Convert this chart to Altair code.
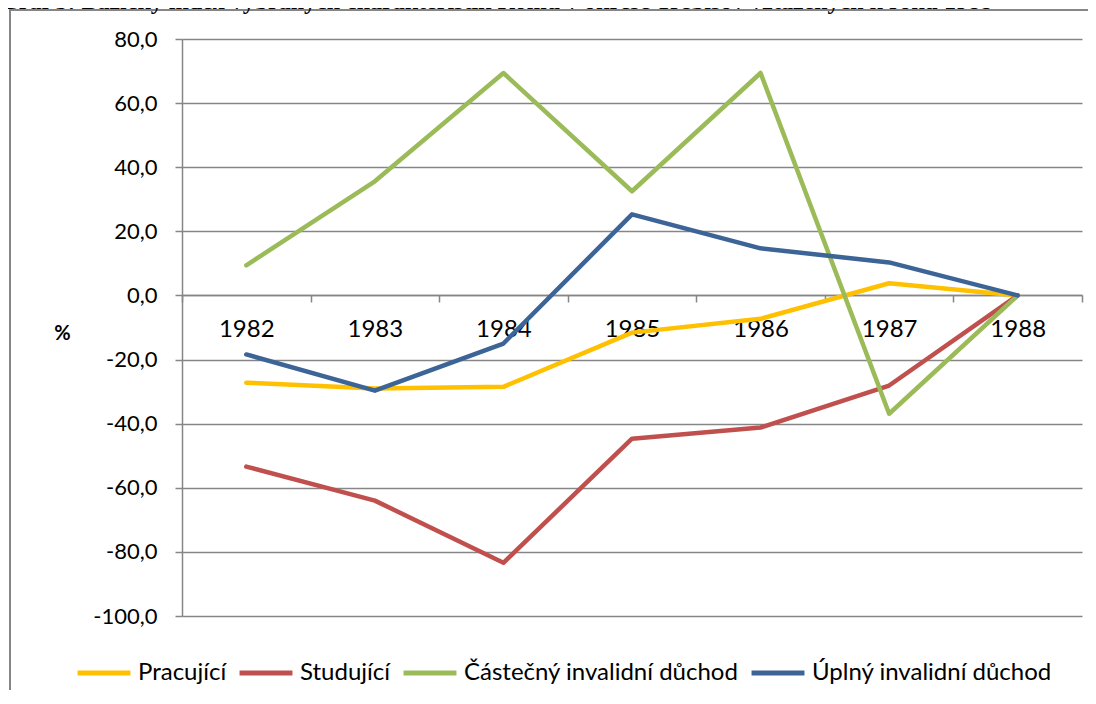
import altair as alt
import pandas as pd

years = ["1982", "1983", "1984", "1985", "1986", "1987", "1988"]
series_names = ["Pracující", "Studující", "Částečný invalidní důchod", "Úplný invalidní důchod"]
pracujici = [-27.2, -29.0, -28.5, -11.6, -7.3, 3.8, 0.0]
studujici = [-53.4, -64.0, -83.4, -44.7, -41.2, -28.1, 0.0]
castecny = [9.4, 35.6, 69.4, 32.5, 69.4, -36.9, 0.0]
uplny = [-18.4, -29.7, -15.0, 25.3, 14.7, 10.3, 0.0]
colors = ["#FFC000", "#C0504D", "#9BBB59", "#3C6497"]
y_ticks = [-100, -80, -60, -40, -20, 0, 20, 40, 60, 80]
title_text = "Graf 5: Bazický index vybraných charakteristík Romů v okrese Trebišov vztažených k roku 1988"

rows = []
for name, vals in zip(series_names, [pracujici, studujici, castecny, uplny]):
    for yr, v in zip(years, vals):
        rows.append({"rok": yr, "hodnota": v, "rada": name})
df = pd.DataFrame(rows)
one = pd.DataFrame({"a": [0]})

GRAY = "#868686"
FONT = "Lato"

lines = alt.Chart(df).mark_line(strokeWidth=4.5, strokeCap="round", strokeJoin="round").encode(
    x=alt.X("rok:O", sort=years,
            scale=alt.Scale(type="band", paddingInner=0, paddingOuter=0),
            axis=alt.Axis(orient="bottom", offset=-321, title=None, labelAngle=0,
                          tickBand="extent", tickSize=7, tickColor=GRAY, tickWidth=1.5,
                          domainColor=GRAY, domainWidth=1.5, labelFont=FONT, labelFontSize=24,
                          labelColor="black", labelPadding=15, grid=False)),
    y=alt.Y("hodnota:Q",
            scale=alt.Scale(domain=[-100, 80], nice=False, zero=False),
            axis=alt.Axis(values=y_ticks,
                          labelExpr="replace(replace(format(datum.value, '.1f'), '.', ','), '\u2212', '-')",
                          tickSize=7, tickColor=GRAY, tickWidth=1.5,
                          domainColor=GRAY, domainWidth=1.5,
                          grid=True, gridColor=GRAY, gridWidth=1.5,
                          labelFont=FONT, labelFontSize=22, labelColor="black", labelPadding=18,
                          title="%", titleAngle=0, titleX=-120, titleY=294,
                          titleAlign="center", titleBaseline="middle",
                          titleFont=FONT, titleFontSize=20, titleFontWeight="bold", titleColor="black")),
    color=alt.Color("rada:N", sort=series_names,
                    scale=alt.Scale(domain=series_names, range=colors),
                    legend=alt.Legend(orient="none", legendX=-107, legendY=605, direction="horizontal",
                                      title=None, symbolType="stroke", symbolSize=2800,
                                      symbolStrokeWidth=5, labelFont=FONT, labelFontSize=24,
                                      labelColor="black", labelOffset=5, columnPadding=2,
                                      labelLimit=500)),
    order=alt.Order("rada_idx:Q"),
).transform_calculate(
    rada_idx="indexof(" + str(series_names).replace("'", '"') + ", datum.rada)"
)

frame = alt.Chart(one).mark_rect(fillOpacity=0, stroke=GRAY, strokeWidth=2).encode(
    x=alt.value(-172), y=alt.value(-29), x2=alt.value(1300), y2=alt.value(1000)
)

title = alt.Chart(one).mark_text(text=title_text, font="Liberation Serif", fontWeight="bold",
                                 fontSize=24, align="center", baseline="alphabetic",
                                 color="black").encode(
    x=alt.value(314), y=alt.value(-30)
)

chart = alt.layer(frame, lines, title).properties(
    width=900, height=577,
    padding={"left": 174, "top": 31, "right": 6, "bottom": 74},
    autosize=alt.AutoSizeParams(type="none"),
).configure_view(strokeOpacity=0)

chart.save("out.html", embed_options={"renderer": "svg", "actions": False})
